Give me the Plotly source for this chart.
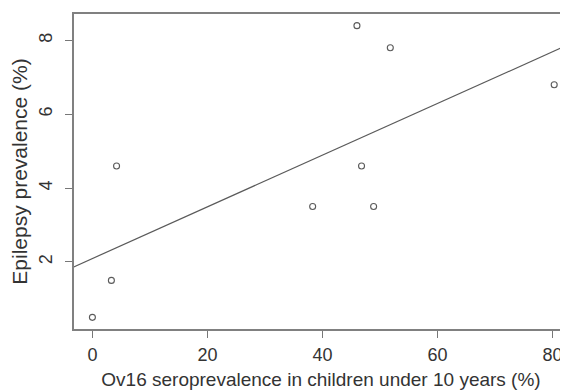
import numpy as np
import plotly.graph_objects as go

ov16 = [0.0, 3.3, 4.2, 38.3, 46.0, 46.8, 48.9, 51.8, 80.3]
epilepsy = [0.5, 1.5, 4.6, 3.5, 8.4, 4.6, 3.5, 7.8, 6.8]
x_ticks = [0, 20, 40, 60, 80]
y_ticks = [2, 4, 6, 8]

slope, intercept = np.polyfit(ov16, epilepsy, 1)
x_line = [-10, 100]
y_line = [intercept + slope * v for v in x_line]

fig = go.Figure()
fig.add_trace(go.Scatter(x=x_line, y=y_line, mode="lines",
                         line=dict(color="#5a5a5a", width=1.2), hoverinfo="skip"))
fig.add_trace(go.Scatter(x=ov16, y=epilepsy, mode="markers",
                         marker=dict(symbol="circle-open", size=6,
                                     color="#5a5a5a", line=dict(width=1.1))))

font = "Liberation Sans, Arial, sans-serif"
fig.update_layout(
    width=560, height=384,
    margin=dict(l=66, r=0, t=6, b=63),
    plot_bgcolor="white", paper_bgcolor="white",
    showlegend=False,
    font=dict(family=font, size=18, color="#333333"),
    xaxis=dict(range=[-3.2, 82.7], tickvals=x_ticks, ticks="outside", ticklen=7,
               tickcolor="#777777", showline=True, mirror=True, linecolor="#808080",
               linewidth=1.5, showgrid=False, zeroline=False, automargin=False,
               ticklabelstandoff=2,
               title=dict(text="Ov16 seroprevalence in children under 10 years (%)",
                          standoff=8, font=dict(size=19)),
               tickfont=dict(size=18)),
    yaxis=dict(range=[0.184, 8.716], tickvals=y_ticks, ticks="outside", ticklen=7,
               tickcolor="#777777", showline=True, mirror=False, linecolor="#808080",
               linewidth=1.5, showgrid=False, zeroline=False, tickangle=-90,
               automargin=False, ticklabelstandoff=6,
               title=dict(text="Epilepsy prevalence (%)", standoff=8, font=dict(size=21)),
               tickfont=dict(size=18)),
)
fig.write_html("out.html")
